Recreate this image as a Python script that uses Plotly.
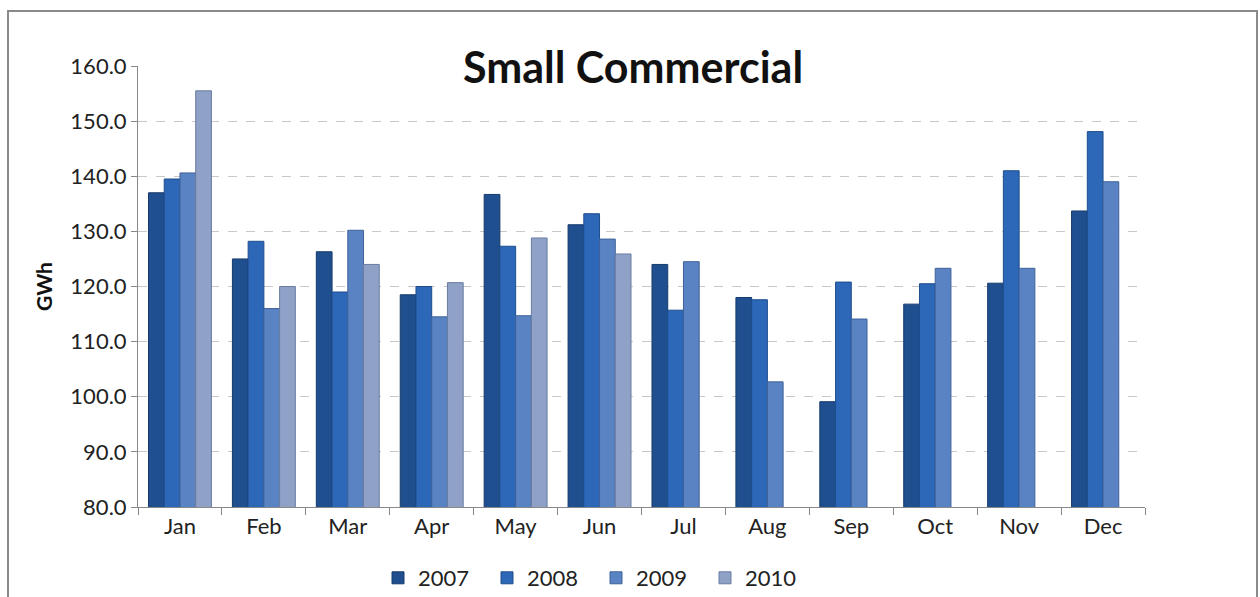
import plotly.graph_objects as go

months = ["Jan", "Feb", "Mar", "Apr", "May", "Jun", "Jul", "Aug", "Sep", "Oct", "Nov", "Dec"]
series_names = ["2007", "2008", "2009", "2010"]
v2007 = [137.0, 125.0, 126.3, 118.5, 136.7, 131.2, 124.0, 118.0, 99.1, 116.8, 120.6, 133.7]
v2008 = [139.5, 128.2, 119.0, 120.0, 127.3, 133.2, 115.7, 117.6, 120.8, 120.5, 141.0, 148.1]
v2009 = [140.6, 116.0, 130.2, 114.5, 114.7, 128.6, 124.5, 102.7, 114.1, 123.3, 123.3, 139.0]
v2010 = [155.5, 120.0, 124.0, 120.7, 128.8, 125.9, None, None, None, None, None, None]
colors = ["#1f4f8f", "#2c67b8", "#5a83c3", "#8fa1c6"]
edge_colors = ["#163a6b", "#1f4d8c", "#3f6299", "#6a7ca0"]

W, H = 1260, 597
L, R, T, B = 138, 115, 66, 90
PW, PH = W - L - R, H - T - B

fig = go.Figure()
for name, vals, c, ec in zip(series_names, [v2007, v2008, v2009, v2010], colors, edge_colors):
    fig.add_trace(go.Bar(
        x=months, y=vals, name=name,
        marker=dict(color=c, line=dict(color=ec, width=1)),
    ))

font_family = "Lato, 'Open Sans', sans-serif"

fig.update_layout(
    width=W, height=H,
    margin=dict(l=L, r=R, t=T, b=B, autoexpand=False),
    paper_bgcolor="white", plot_bgcolor="white",
    barmode="group", bargap=0.25, bargroupgap=0.0,
    font=dict(family=font_family, size=22, color="#222222"),
    showlegend=True,
    legend=dict(orientation="h", x=(596 - L) / PW, xanchor="center",
                y=-(578 - 507) / PH, yanchor="middle",
                font=dict(size=22), itemwidth=30, traceorder="normal",
                entrywidth=64, entrywidthmode="pixels",
                bgcolor="rgba(0,0,0,0)", tracegroupgap=0),
    xaxis=dict(
        type="category", showline=True, linecolor="#888888", linewidth=1,
        ticks="outside", tickson="boundaries", ticklen=7, tickcolor="#888888",
        showgrid=False, tickfont=dict(size=22),
    ),
    yaxis=dict(
        range=[80, 160], dtick=10, tickformat=".1f",
        showline=True, linecolor="#888888", linewidth=1,
        ticks="outside", ticklen=6, tickcolor="#888888",
        showgrid=True, gridcolor="#c8c8c8", griddash="dash", gridwidth=1,
        tickfont=dict(size=22), zeroline=False,
        title=dict(text="<b>GWh</b>", font=dict(size=21, color="#111111"), standoff=12),
    ),
    annotations=[dict(
        text="<b>Small Commercial</b>", xref="paper", yref="paper",
        x=(633 - L) / PW, y=1.0, xanchor="center", yanchor="middle",
        showarrow=False, font=dict(size=43, color="#111111", family=font_family),
        bgcolor="white", borderpad=2,
    )],
    shapes=[dict(
        type="rect", xref="paper", yref="paper",
        x0=(8 - L) / PW, x1=(1257 - L) / PW,
        y0=-(B + 20) / PH, y1=1 + (T - 11) / PH,
        line=dict(color="#8a8a8a", width=2), fillcolor="rgba(0,0,0,0)", layer="below",
    )],
)

fig.write_html("out.html", config={"displayModeBar": False},
               post_script="document.body.style.margin='0px';document.body.style.overflow='hidden';")
